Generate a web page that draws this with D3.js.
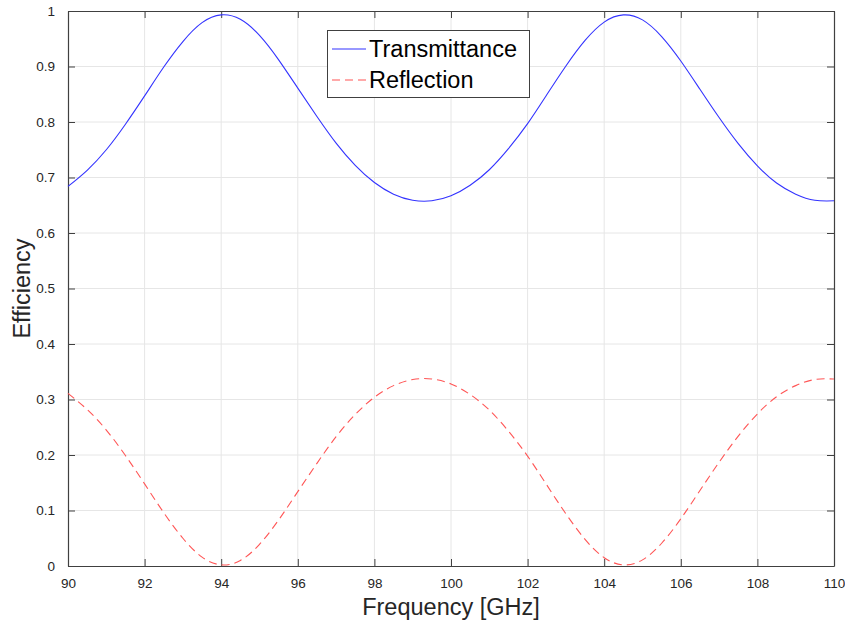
<!DOCTYPE html>
<html>
<head>
<meta charset="utf-8">
<script src="https://cdn.jsdelivr.net/npm/d3@7"></script>
<style>
  body { margin: 0; background: #fff; }
  text { font-family: "Liberation Sans", Arial, sans-serif; }
</style>
</head>
<body>
<div id="chart"></div>
<script>
// frequency samples [GHz]
const freq = [90, 90.5, 91, 91.5, 92, 92.5, 93, 93.5, 94, 94.5, 95, 95.5, 96, 96.5, 97, 97.5,
  98, 98.5, 99, 99.5, 100, 100.5, 101, 101.5, 102, 102.5, 103, 103.5, 104, 104.5, 105, 105.5,
  106, 106.5, 107, 107.5, 108, 108.5, 109, 109.5, 110];

const transmittance = [0.684, 0.713, 0.750, 0.796, 0.847, 0.899, 0.945, 0.979, 0.993, 0.985,
  0.956, 0.912, 0.861, 0.810, 0.762, 0.722, 0.691, 0.670, 0.659, 0.658, 0.667, 0.686, 0.714,
  0.752, 0.797, 0.849, 0.901, 0.947, 0.980, 0.993, 0.984, 0.954, 0.910, 0.859, 0.808, 0.761,
  0.721, 0.690, 0.670, 0.659, 0.658];

const reflection = [0.311, 0.282, 0.245, 0.199, 0.148, 0.096, 0.050, 0.016, 0.002, 0.010,
  0.039, 0.083, 0.134, 0.185, 0.233, 0.273, 0.304, 0.325, 0.336, 0.337, 0.328, 0.309, 0.281,
  0.243, 0.198, 0.146, 0.094, 0.048, 0.015, 0.002, 0.011, 0.041, 0.085, 0.136, 0.187, 0.234,
  0.274, 0.305, 0.325, 0.336, 0.337];

const xTicks = [90, 92, 94, 96, 98, 100, 102, 104, 106, 108, 110];
const yTicks = [0, 0.1, 0.2, 0.3, 0.4, 0.5, 0.6, 0.7, 0.8, 0.9, 1];

const W = 845, H = 626;
const mLeft = 68, mRight = 834, mTop = 11, mBottom = 566;
const axisColor = "#404040";

let svg = d3.select("#chart").append("svg")
  .attr("width", W)
  .attr("height", H);

let x = d3.scaleLinear().domain([90, 110]).range([mLeft, mRight]);
let y = d3.scaleLinear().domain([0, 1]).range([mBottom, mTop]);

// grid
svg.append("g").selectAll("line")
  .data(xTicks.slice(1, -1))
  .enter().append("line")
  .attr("x1", d => x(d)).attr("x2", d => x(d))
  .attr("y1", mTop).attr("y2", mBottom)
  .attr("stroke", "#e6e6e6");
svg.append("g").selectAll("line")
  .data(yTicks.slice(1, -1))
  .enter().append("line")
  .attr("x1", mLeft).attr("x2", mRight)
  .attr("y1", d => y(d)).attr("y2", d => y(d))
  .attr("stroke", "#e6e6e6");

// axes (ticks inward, box on)
const fmt = d => String(+d.toFixed(1));
let xAxis = d3.axisBottom(x).tickValues(xTicks).tickSize(-7).tickSizeOuter(0).tickPadding(12).tickFormat(d => d);
let xTop = d3.axisTop(x).tickValues(xTicks).tickSize(-7).tickSizeOuter(0).tickFormat("");
let yAxis = d3.axisLeft(y).tickValues(yTicks).tickSize(-7).tickSizeOuter(0).tickPadding(13).tickFormat(fmt);
let yRight = d3.axisRight(y).tickValues(yTicks).tickSize(-7).tickSizeOuter(0).tickFormat("");

function styleAxis(g) {
  g.select(".domain").attr("stroke", axisColor).attr("stroke-width", 1.2);
  g.selectAll(".tick line").attr("stroke", axisColor);
  g.selectAll(".tick text").attr("fill", "#262626").style("font-size", "13.5px")
    .style("font-family", "'Liberation Sans', Arial, sans-serif");
}

svg.append("g").attr("transform", `translate(0,${mBottom})`).call(xAxis).call(styleAxis);
svg.append("g").attr("transform", `translate(0,${mTop})`).call(xTop).call(styleAxis);
svg.append("g").attr("transform", `translate(${mLeft},0)`).call(yAxis).call(styleAxis);
svg.append("g").attr("transform", `translate(${mRight},0)`).call(yRight).call(styleAxis);

// curves
const tData = freq.map((f, i) => ({ f, v: transmittance[i] }));
const rData = freq.map((f, i) => ({ f, v: reflection[i] }));
let line = d3.line().x(d => x(d.f)).y(d => y(d.v)).curve(d3.curveNatural);

svg.append("path").datum(tData)
  .attr("d", line)
  .attr("fill", "none")
  .attr("stroke", "#3333ff")
  .attr("stroke-width", 1.1);

svg.append("path").datum(rData)
  .attr("d", line)
  .attr("fill", "none")
  .attr("stroke", "#ff5555")
  .attr("stroke-width", 1.1)
  .attr("stroke-dasharray", "8,5");

// axis labels
svg.append("text")
  .attr("x", (mLeft + mRight) / 2).attr("y", 615)
  .attr("text-anchor", "middle")
  .style("font-size", "23.5px").attr("fill", "#262626")
  .text("Frequency [GHz]");

svg.append("text")
  .attr("transform", `translate(30,${(mTop + mBottom) / 2}) rotate(-90)`)
  .attr("text-anchor", "middle")
  .style("font-size", "23.5px").attr("fill", "#262626")
  .text("Efficiency");

// legend
let legend = svg.append("g");
legend.append("rect")
  .attr("x", 327.5).attr("y", 30.5)
  .attr("width", 202).attr("height", 67)
  .attr("fill", "#fff").attr("stroke", axisColor);

const legendItems = [
  { label: "Transmittance", color: "#3333ff", dash: null, y: 49 },
  { label: "Reflection", color: "#ff5555", dash: "8,5", y: 80 }
];
legendItems.forEach(d => {
  legend.append("line")
    .attr("x1", 332).attr("x2", 366)
    .attr("y1", d.y).attr("y2", d.y)
    .attr("stroke", d.color).attr("stroke-width", 1.1)
    .attr("stroke-dasharray", d.dash);
  legend.append("text")
    .attr("x", 369).attr("y", d.y + 8)
    .style("font-size", "23.5px").attr("fill", "#000")
    .text(d.label);
});
</script>
</body>
</html>
